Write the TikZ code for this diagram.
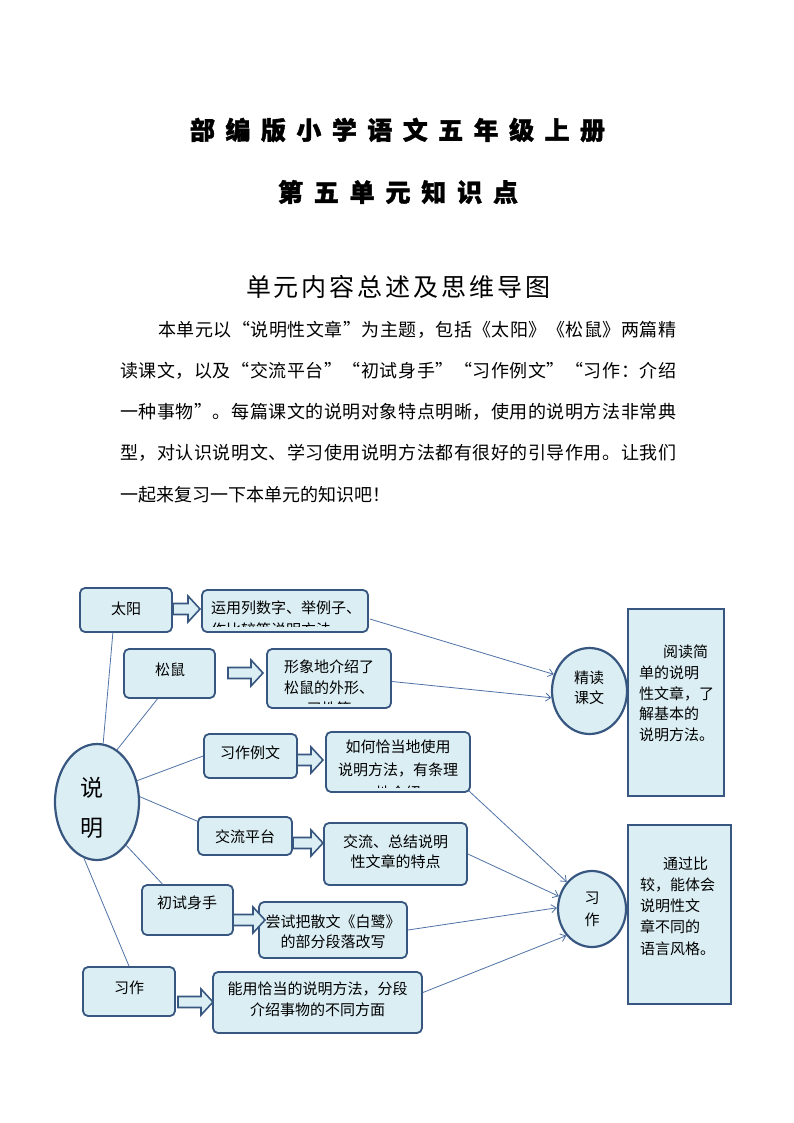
\documentclass[tikz,border=0pt]{standalone}
\usepackage{fontspec}
\setmainfont{Noto Sans CJK SC}
\usetikzlibrary{arrows.meta,calc,shapes.geometric}
\definecolor{lb}{RGB}{219,238,244}
\definecolor{bdr}{RGB}{56,87,128}
\definecolor{ln}{RGB}{79,114,166}
\newcommand\fsz[2]{\fontsize{#1}{#2}\selectfont}
\def\sprA#1{\ifx\relax#1\else#1\hskip0pt plus 1fil\expandafter\sprA\fi}
\newcommand\spread[2]{\hbox to #1{\sprA#2\relax\unskip}}
\newcommand\blockarrow[3]{%
  \draw[barr] (#1,#3-5.5) -- (#2-12,#3-5.5) -- (#2-12,#3-13) -- (#2,#3) -- (#2-12,#3+13) -- (#2-12,#3+5.5) -- (#1,#3+5.5) -- cycle;}
\tikzset{
  bx/.style={draw=bdr, fill=lb, line width=1.8pt, rounded corners=5pt, inner sep=0pt},
  rbx/.style={draw=bdr, fill=lb, line width=2.2pt, inner sep=0pt},
  ell/.style={ellipse, draw=bdr, fill=lb, line width=2.2pt, inner sep=0pt},
  tx/.style={inner sep=0pt, align=center, font=\fsz{15}{21}},
  con/.style={draw=ln, line width=0.8pt},
  arr/.style={con, -{Straight Barb[length=5pt,width=8pt]}},
  barr/.style={draw=bdr, fill=lb, line width=1.6pt, line join=miter},
  ttl/.style={inner sep=0pt, font=\bfseries\fsz{25}{25}\addfontfeature{FakeBold=1.5}},
  para/.style={inner sep=0pt, anchor=west, font=\fsz{18}{18}}
}
\begin{document}
\begin{tikzpicture}[x=1pt,y=-1pt]
\useasboundingbox (0,0) rectangle (794,1123);
\fill[white] (0,0) rectangle (794,1123);

% titles
\node[ttl] (t1) at (397.5,130) {\spread{415pt}{部编版小学语文五年级上册}};
\node[ttl] (t2) at (398,192) {\spread{240pt}{第五单元知识点}};
\node[inner sep=0pt, font=\fsz{25}{25}] (t3) at (398,287) {\spread{304pt}{单元内容总述及思维导图}};

% paragraph
\node[para] (p1) at (158,330) {\spread{518pt}{本单元以“说明性文章”为主题，包括《太阳》《松鼠》两篇精}};
\node[para] (p2) at (120,371) {\spread{556pt}{读课文，以及“交流平台”“初试身手”“习作例文”“习作：介绍}};
\node[para] (p3) at (120,412) {\spread{556pt}{一种事物”。每篇课文的说明对象特点明晰，使用的说明方法非常典}};
\node[para] (p4) at (120,453) {\spread{556pt}{型，对认识说明文、学习使用说明方法都有很好的引导作用。让我们}};
\node[para] (p5) at (120,495) {一起来复习一下本单元的知识吧！};

% left boxes
\node[bx,minimum width=92,minimum height=44] (ty) at (126,610) {};
\node[tx] (tyT) at (126,609) {太阳};
\node[bx,minimum width=166,minimum height=42] (yy) at (285,611) {};
\begin{scope}
\clip ($(yy.north west)+(2,2)$) rectangle ($(yy.south east)+(-2,-6)$);
\node[tx,align=left,anchor=west,font=\fsz{15}{22}] (yyT) at (211,619) {运用列数字、举例子、\\作比较等说明方法};
\end{scope}

\node[bx,minimum width=91,minimum height=49] (ss) at (169.5,673.5) {};
\node[tx] (ssT) at (170,670) {松鼠};
\node[bx,minimum width=124,minimum height=59] (xx) at (329,678.5) {};
\begin{scope}
\clip ($(xx.north west)+(2,2)$) rectangle ($(xx.south east)+(-2,-5)$);
\node[tx] (xxT) at (329,688) {形象地介绍了\\松鼠的外形、\\习性等};
\end{scope}

\node[bx,minimum width=93,minimum height=44] (xzlw) at (250.5,756) {};
\node[tx] (xzlwT) at (250,753) {习作例文};
\node[bx,minimum width=144,minimum height=60] (rh) at (398,762) {};
\begin{scope}
\clip ($(rh.north west)+(2,2)$) rectangle ($(rh.south east)+(-2,-5)$);
\node[tx,font=\fsz{15}{23}] (rhT) at (398,770) {如何恰当地使用\\说明方法，有条理\\地介绍};
\end{scope}

\node[bx,minimum width=94,minimum height=38] (jlpt) at (245,836) {};
\node[tx] (jlptT) at (245,837) {交流平台};
\node[bx,minimum width=143,minimum height=62] (jl) at (395.5,854) {};
\node[tx,font=\fsz{15}{20}] (jlT) at (395.5,852) {交流、总结说明\\性文章的特点};

\node[bx,minimum width=91,minimum height=50] (cssx) at (187.5,910) {};
\node[tx] (cssxT) at (187,903) {初试身手};
\node[bx,minimum width=148,minimum height=56] (cs) at (333,930) {};
\node[tx,font=\fsz{15}{20}] (csT) at (333,932) {尝试把散文《白鹭》\\的部分段落改写};

\node[bx,minimum width=92,minimum height=49] (xz) at (129,991.5) {};
\node[tx] (xzT) at (129,988) {习作};
\node[bx,minimum width=209,minimum height=61] (ny) at (317.5,1002.5) {};
\node[tx] (nyT) at (317.5,999.5) {能用恰当的说明方法，分段\\介绍事物的不同方面};

% block arrows
\blockarrow{173}{200}{609}
\blockarrow{228}{263}{673}
\blockarrow{297}{323}{760}
\blockarrow{293}{323}{843}
\blockarrow{233}{265}{920}
\blockarrow{178}{213}{1002}

% ellipses
\node[ell,minimum width=84,minimum height=116] (sm) at (97,802) {};
\node[tx,font=\fsz{23}{40}] (smT) at (92,808) {说\\明};
\node[ell,minimum width=75,minimum height=86] (jd) at (589.5,691) {};
\node[tx,font=\fsz{15}{20}] (jdT) at (589,688) {精读\\课文};
\node[ell,minimum width=68,minimum height=76] (xzE) at (592,909) {};
\node[tx,font=\fsz{15}{22}] (xzET) at (592,909) {习\\作};

% right boxes
\node[rbx,minimum width=96,minimum height=187] (rA) at (676,702.5) {};
\node[tx,align=left,anchor=west,font=\fsz{15}{20.8}] (rAT) at (639,693.5) {\hspace*{24pt}阅读简\\单的说明\\性文章，了\\解基本的\\说明方法。};
\node[rbx,minimum width=103,minimum height=179] (rB) at (679.5,914.5) {};
\node[tx,align=left,anchor=west,font=\fsz{15}{21.2}] (rBT) at (640,906) {\hspace*{23pt}通过比\\较，能体会\\说明性文\\章不同的\\语言风格。};

% connectors from 说明
\draw[con] (sm.84) -- ($(ty.south west)!0.36!(ty.south east)$);
\draw[con] (sm.69) -- ($(ss.south west)!0.37!(ss.south east)$);
\draw[con] (sm.28) -- (xzlw.west);
\draw[con] (sm.7) -- ($(jlpt.north west)+(0,5)$);
\draw[con] (sm.-56) -- ($(cssx.north west)!0.23!(cssx.north east)$);
\draw[con] (sm.-103) -- (xz.north);

% arrows to ellipses
\draw[arr] ($(yy.east)+(1,8)$) -- (jd.155);
\draw[arr] ($(xx.east)+(0,3)$) -- (jd.190);
\draw[arr] ($(rh.south east)+(-2,-2)$) -- (xzE.133);
\draw[arr] (jl.east) -- (xzE.159);
\draw[arr] (cs.east) -- (xzE.178);
\draw[arr] ($(ny.east)+(0,-10)$) -- (xzE.226);
\end{tikzpicture}
\end{document}
